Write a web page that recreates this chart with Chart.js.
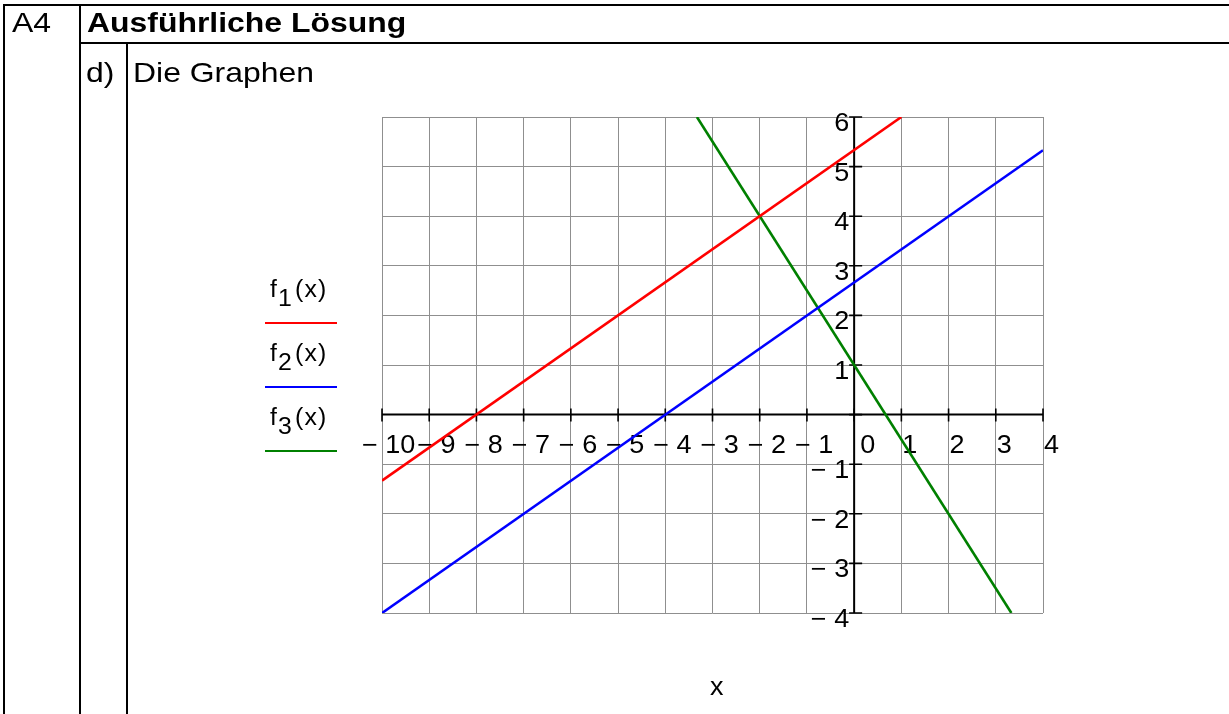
<!DOCTYPE html>
<html>
<head>
<meta charset="utf-8">
<script src="https://cdn.jsdelivr.net/npm/chart.js@4"></script>
<style>
  html, body { margin: 0; padding: 0; background: #fff; }
  #page { position: relative; width: 1229px; height: 714px; overflow: hidden; font-family: "Liberation Sans", Arial, sans-serif; color: #000; }
  #chart { position: absolute; left: 0; top: 0; }
  .rule { position: absolute; background: #000; }
  .txt { position: absolute; font-size: 28px; line-height: 28px; white-space: nowrap; transform: scaleX(1.14); transform-origin: 0 0; }
  .leg { position: absolute; font-size: 23px; line-height: 23px; white-space: nowrap; transform: scaleX(1.08); transform-origin: 0 0; }
  .leg .sub { position: relative; top: 9px; margin-left: 1px; }
  .leg .arg { letter-spacing: 1px; margin-left: 3px; }
  .legline { position: absolute; height: 2px; width: 72px; left: 265px; }
</style>
</head>
<body>
<div id="page">
  <canvas id="chart" width="1229" height="714"></canvas>

  <!-- table frame -->
  <div class="rule" style="left:3px; top:4px; width:2px; height:710px;"></div>
  <div class="rule" style="left:3px; top:4px; width:1226px; height:2px;"></div>
  <div class="rule" style="left:79px; top:4px; width:2px; height:710px;"></div>
  <div class="rule" style="left:79px; top:42px; width:1150px; height:2px;"></div>
  <div class="rule" style="left:126px; top:42px; width:2px; height:672px;"></div>

  <div class="txt" style="left:12px; top:9px;">A4</div>
  <div class="txt" style="left:87px; top:9px; font-weight:bold;">Ausführliche Lösung</div>
  <div class="txt" style="left:86px; top:59px;">d)</div>
  <div class="txt" style="left:133px; top:59px;">Die Graphen</div>

  <!-- legend -->
  <div class="leg" style="left:270px; top:278px;">f<span class="sub">1</span><span class="arg">(x)</span></div>
  <div class="legline" style="top:322px; background:#ff0000;"></div>
  <div class="leg" style="left:270px; top:342px;">f<span class="sub">2</span><span class="arg">(x)</span></div>
  <div class="legline" style="top:386px; background:#0000ff;"></div>
  <div class="leg" style="left:270px; top:406px;">f<span class="sub">3</span><span class="arg">(x)</span></div>
  <div class="legline" style="top:450px; background:#008000;"></div>

  <div class="leg" style="left:710px; top:674px; font-size:25px; line-height:25px;">x</div>
</div>

<script>
// Axis ticks
const xTicks = [-10, -9, -8, -7, -6, -5, -4, -3, -2, -1, 0, 1, 2, 3, 4];
const yTicks = [-4, -3, -2, -1, 0, 1, 2, 3, 4, 5, 6];

// Graph end points
const f1X = [-10, 1];
const f1Y = [-1.33, 6];
const f2X = [-10, 4];
const f2Y = [-4, 5.33];
const f3X = [-3.33, 3.33];
const f3Y = [6, -4];

const toPoints = (xs, ys) => xs.map((v, i) => ({ x: v, y: ys[i] }));

function drawLabel(ctx, text, px, py, align) {
  ctx.save();
  ctx.translate(px, py);
  ctx.scale(1.08, 1);
  ctx.textAlign = align;
  ctx.fillText(text, 0, 0);
  ctx.restore();
}

// Mathcad style crossing axes with ticks and labels
const crossAxes = {
  id: "crossAxes",
  beforeDatasetsDraw(chart) {
    const { ctx, chartArea: a } = chart;
    const xs = chart.scales.x;
    const ys = chart.scales.y;
    const x0 = xs.getPixelForValue(0);
    const y0 = ys.getPixelForValue(0);

    ctx.save();
    ctx.strokeStyle = "#000";
    ctx.lineWidth = 2;
    ctx.beginPath();
    ctx.moveTo(a.left, y0);
    ctx.lineTo(a.right, y0);
    ctx.moveTo(x0, a.top);
    ctx.lineTo(x0, a.bottom);
    ctx.stroke();

    ctx.lineWidth = 1.6;
    ctx.beginPath();
    xTicks.forEach((v) => {
      const px = xs.getPixelForValue(v);
      ctx.moveTo(px, y0 - 6);
      ctx.lineTo(px, y0 + 7);
    });
    yTicks.forEach((v) => {
      const py = ys.getPixelForValue(v);
      ctx.moveTo(x0 - 5, py);
      ctx.lineTo(x0 + 8, py);
    });
    ctx.stroke();

    ctx.fillStyle = "#000";
    ctx.font = '25px "Liberation Sans", Arial, sans-serif';
    ctx.textBaseline = "alphabetic";

    xTicks.forEach((v) => {
      const px = xs.getPixelForValue(v);
      if (v < 0) {
        const digits = String(-v);
        drawLabel(ctx, "\u2212 " + digits, px - 12 - (digits.length - 1) * 8, y0 + 38, "left");
      } else {
        drawLabel(ctx, String(v), px + (v === 0 ? 6 : 1), y0 + 38, "left");
      }
    });

    yTicks.forEach((v) => {
      if (v === 0) return;
      const py = ys.getPixelForValue(v);
      const text = v < 0 ? "\u2212 " + String(-v) : String(v);
      drawLabel(ctx, text, x0 - 5, py + 14, "right");
    });
    ctx.restore();
  },
};

const gridOpts = { color: "#8f8f8f", lineWidth: 1, drawTicks: false };

new Chart(document.getElementById("chart"), {
  type: "line",
  data: {
    datasets: [
      { label: "f1(x)", data: toPoints(f1X, f1Y), borderColor: "#ff0000" },
      { label: "f2(x)", data: toPoints(f2X, f2Y), borderColor: "#0000ff" },
      { label: "f3(x)", data: toPoints(f3X, f3Y), borderColor: "#008000" },
    ],
  },
  options: {
    responsive: false,
    animation: false,
    events: [],
    elements: {
      line: { borderWidth: 2.6, tension: 0 },
      point: { radius: 0 },
    },
    layout: { padding: { left: 382, top: 117, right: 186, bottom: 101 } },
    plugins: { legend: { display: false }, tooltip: { enabled: false } },
    scales: {
      x: {
        type: "linear",
        min: -10,
        max: 4,
        afterBuildTicks: (s) => { s.ticks = xTicks.map((v) => ({ value: v })); },
        ticks: { display: false },
        grid: gridOpts,
        border: { display: false },
      },
      y: {
        type: "linear",
        min: -4,
        max: 6,
        afterBuildTicks: (s) => { s.ticks = yTicks.map((v) => ({ value: v })); },
        ticks: { display: false },
        grid: gridOpts,
        border: { display: false },
      },
    },
  },
  plugins: [crossAxes],
});
</script>
</body>
</html>
